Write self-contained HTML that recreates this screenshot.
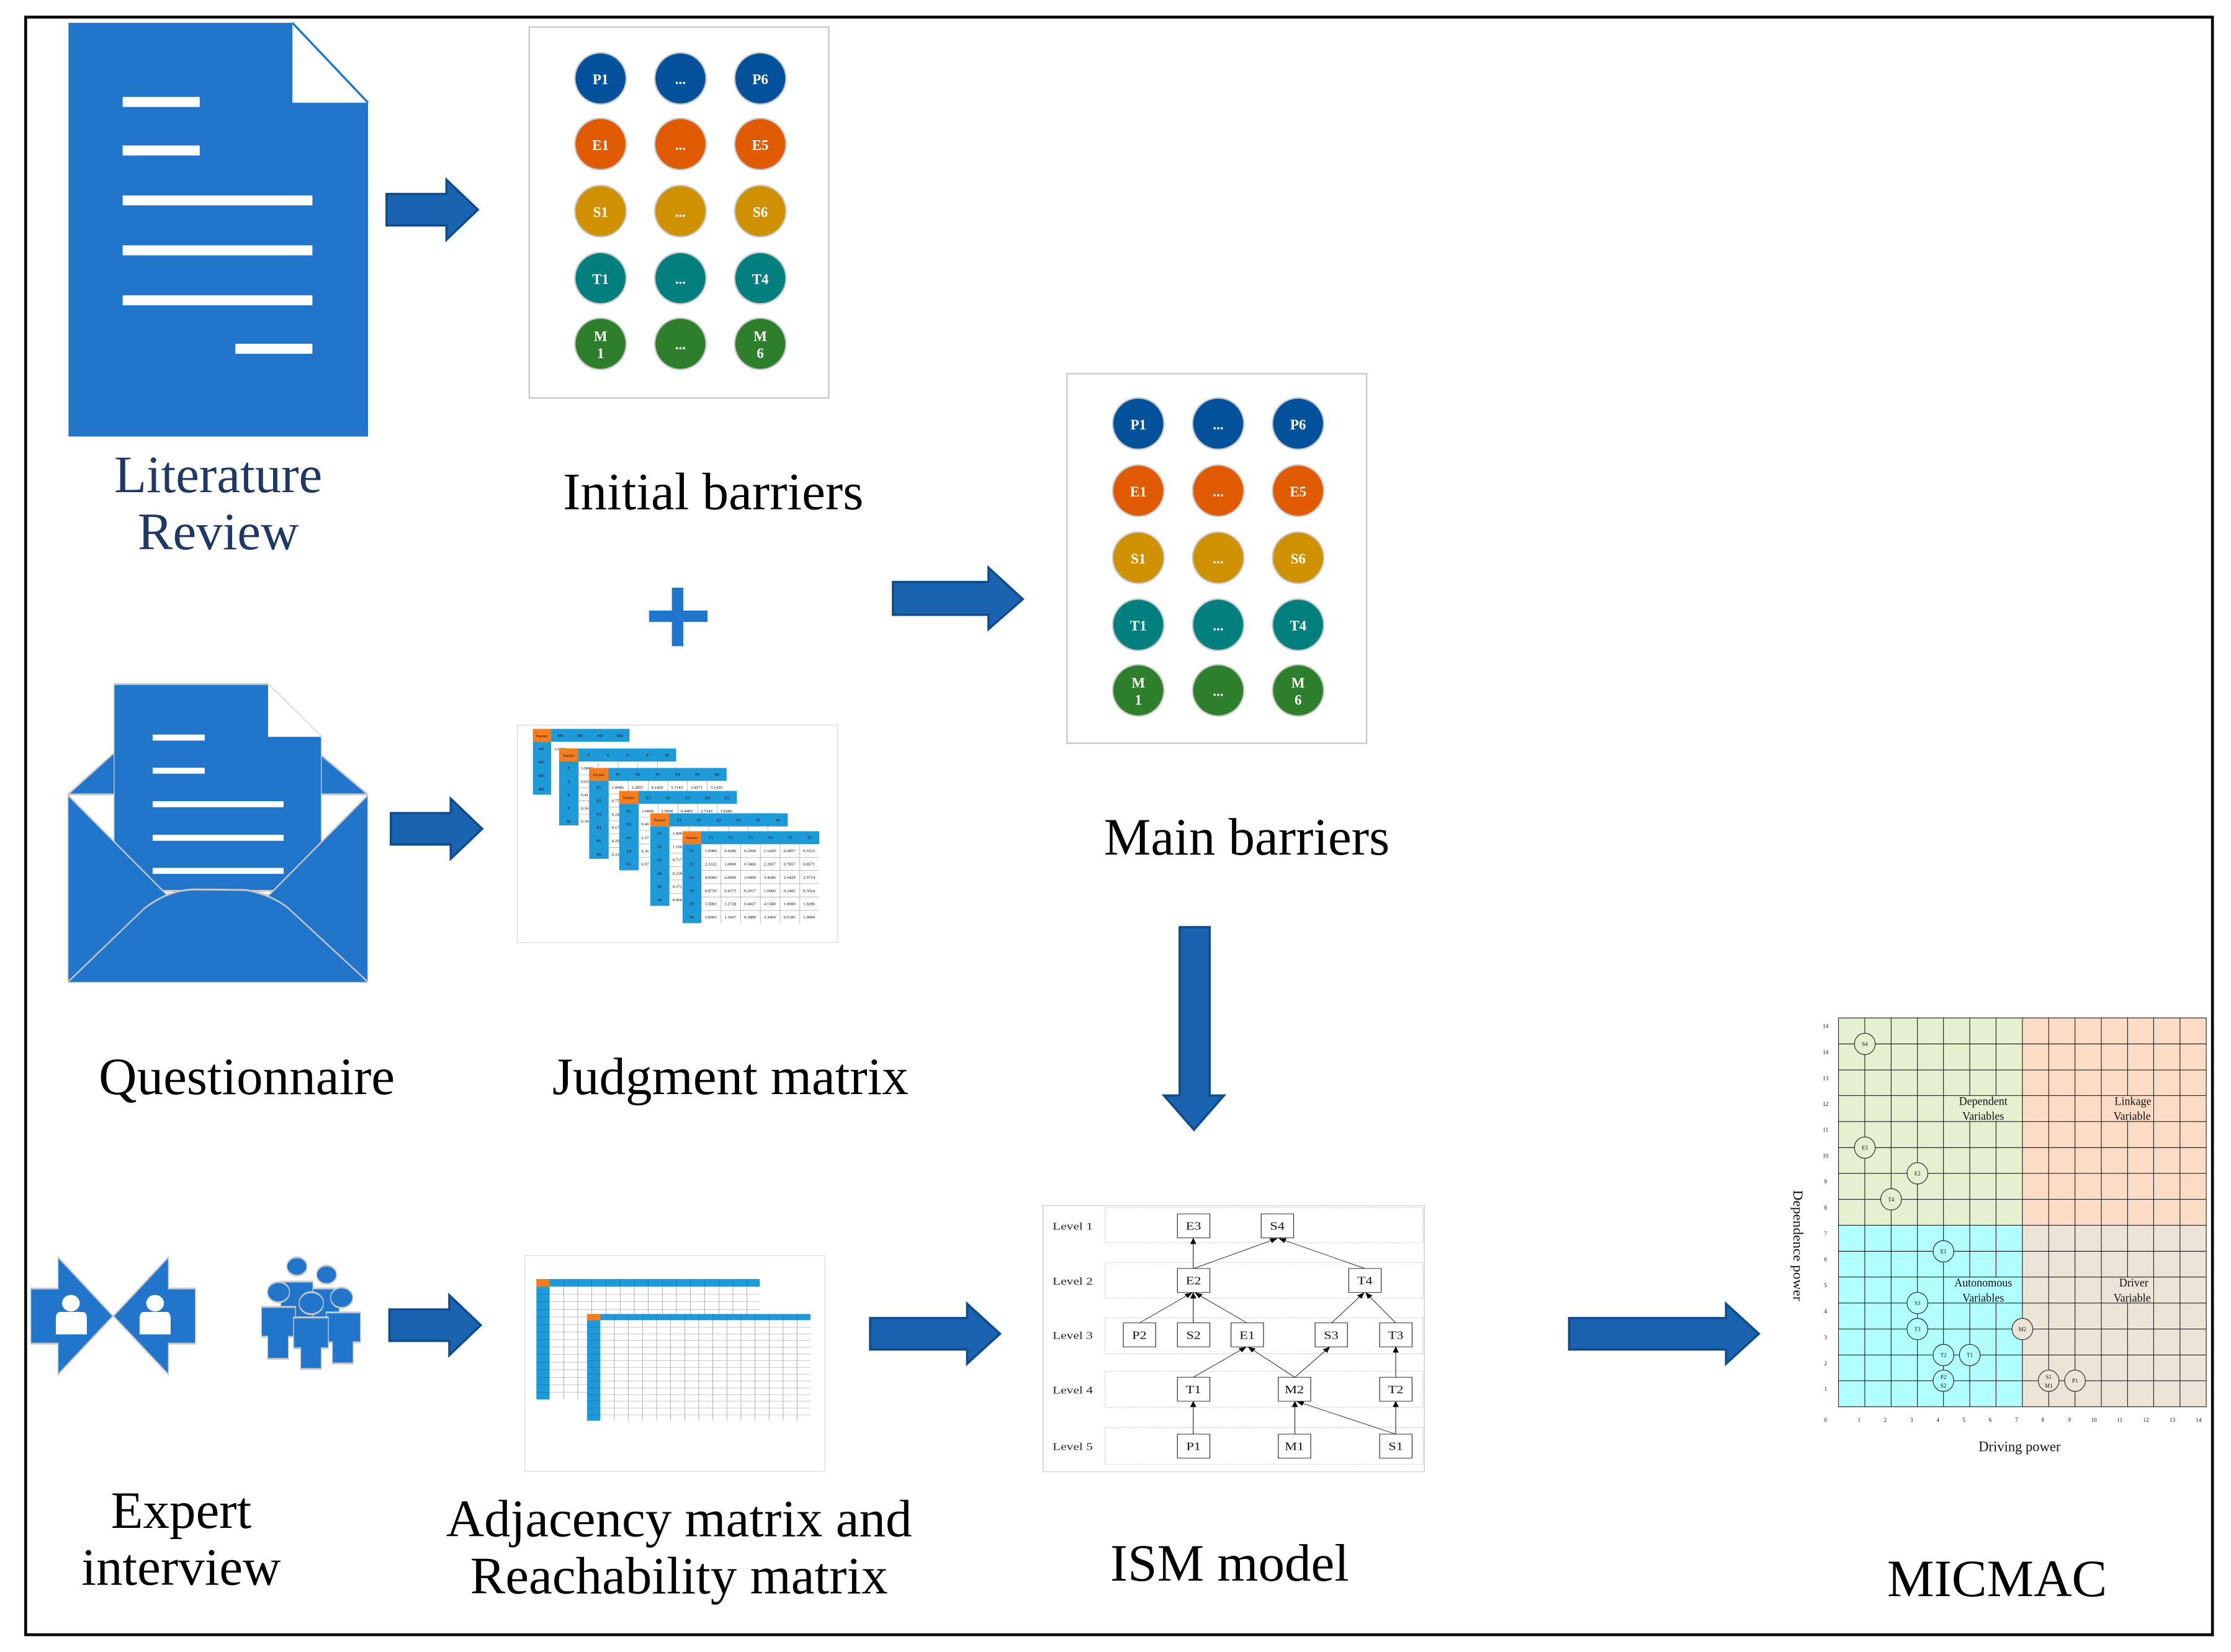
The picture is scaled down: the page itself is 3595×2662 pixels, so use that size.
<!DOCTYPE html>
<html><head><meta charset="utf-8"><style>
html,body{margin:0;padding:0;background:#fff;}
svg{display:block;}
</style></head><body>
<svg xmlns="http://www.w3.org/2000/svg" width="3595" height="2662" viewBox="0 0 3595 2662" font-family="'Liberation Serif', serif">
<defs>
<marker id="ah" markerWidth="30" markerHeight="30" refX="27" refY="15" orient="auto" markerUnits="userSpaceOnUse" viewBox="0 0 30 30"><path d="M0,3 L30,15 L0,27 Z" fill="#000"/></marker>
</defs>
<rect width="3595" height="2662" fill="#fff"/>
<g transform="scale(2.2986)">
<rect x="18" y="12" width="1533" height="1134" fill="none" stroke="#000" stroke-width="2"/>
<!-- literature doc -->
<path d="M48,16 L205,16 L258,72 L258,306 L48,306 Z" fill="#2176cc"/>
<path d="M205,16 L258,72 L205,72 Z" fill="#fff"/>
<path d="M205,16 L258,72" stroke="#2176cc" stroke-width="1.5"/>
<g fill="#fff">
<rect x="86" y="68" width="54" height="7"/><rect x="86" y="102" width="54" height="7"/>
<rect x="86" y="137" width="133" height="7"/><rect x="86" y="172" width="133" height="7"/>
<rect x="86" y="207" width="133" height="7"/><rect x="165" y="241" width="54" height="7"/>
</g>
<g font-size="37" text-anchor="middle">
<text x="153" y="345" fill="#1f3864">Literature</text>
<text x="153" y="385" fill="#1f3864">Review</text>
<text x="500" y="357">Initial barriers</text>
<text x="874" y="599">Main barriers</text>
<text x="173" y="767">Questionnaire</text>
<text x="512" y="767">Judgment matrix</text>
<text x="127" y="1071">Expert</text>
<text x="127" y="1111">interview</text>
<text x="476" y="1077">Adjacency matrix and</text>
<text x="476" y="1117">Reachability matrix</text>
<text x="862" y="1108">ISM model</text>
<text x="1400" y="1119">MICMAC</text>
</g>
<!-- arrows -->
<g fill="#1a63b0" stroke="#0f4c8a" stroke-width="1.6">
<path d="M271,136 L313,136 L313,126 L335,147 L313,168 L313,158 L271,158 Z"/>
<path d="M626,408 L693,408 L693,398 L717,420 L693,441 L693,431 L626,431 Z"/>
<path d="M274,570 L316,570 L316,560 L338,581 L316,602 L316,592 L274,592 Z"/>
<path d="M273,918 L315,918 L315,908 L337,929 L315,950 L315,940 L273,940 Z"/>
<path d="M610,924 L678,924 L678,914 L701,935 L678,956 L678,946 L610,946 Z"/>
<path d="M1100,924 L1210,924 L1210,914 L1233,935 L1210,956 L1210,946 L1100,946 Z"/>
<path d="M827,650 L848,650 L848,768 L858,768 L837,792 L816,768 L827,768 Z"/>
</g>
<!-- plus -->
<rect x="455" y="428" width="41" height="8" fill="#2176cc"/>
<rect x="471" y="412" width="8" height="41" fill="#2176cc"/>
<!-- initial barriers -->
<rect x="371" y="19" width="210" height="260" fill="#fff" stroke="#c8c8c8" stroke-width="1"/>
<g stroke="#c8c8c8" stroke-width="1">
<g fill="#03519a"><ellipse cx="421" cy="55" rx="18" ry="18"/><ellipse cx="477" cy="55" rx="18" ry="18"/><ellipse cx="533" cy="55" rx="18" ry="18"/></g>
<g fill="#e05a00"><ellipse cx="421" cy="101" rx="18" ry="18"/><ellipse cx="477" cy="101" rx="18" ry="18"/><ellipse cx="533" cy="101" rx="18" ry="18"/></g>
<g fill="#cf9100"><ellipse cx="421" cy="148" rx="18" ry="18"/><ellipse cx="477" cy="148" rx="18" ry="18"/><ellipse cx="533" cy="148" rx="18" ry="18"/></g>
<g fill="#007f7f"><ellipse cx="421" cy="195" rx="18" ry="18"/><ellipse cx="477" cy="195" rx="18" ry="18"/><ellipse cx="533" cy="195" rx="18" ry="18"/></g>
<g fill="#2e7f2c"><ellipse cx="421" cy="241" rx="18" ry="18"/><ellipse cx="477" cy="241" rx="18" ry="18"/><ellipse cx="533" cy="241" rx="18" ry="18"/></g>
</g>
<g fill="#fff" font-size="10" font-weight="bold" text-anchor="middle">
<text x="421" y="59">P1</text><text x="477" y="59">...</text><text x="533" y="59">P6</text>
<text x="421" y="105">E1</text><text x="477" y="105">...</text><text x="533" y="105">E5</text>
<text x="421" y="152">S1</text><text x="477" y="152">...</text><text x="533" y="152">S6</text>
<text x="421" y="199">T1</text><text x="477" y="199">...</text><text x="533" y="199">T4</text>
<text x="421" y="239">M</text><text x="421" y="251">1</text><text x="477" y="245">...</text><text x="533" y="239">M</text><text x="533" y="251">6</text>
</g>
<!-- main barriers -->
<rect x="748" y="262" width="210" height="259" fill="#fff" stroke="#c8c8c8" stroke-width="1"/>
<g stroke="#c8c8c8" stroke-width="1">
<g fill="#03519a"><ellipse cx="798" cy="297" rx="18" ry="18"/><ellipse cx="854" cy="297" rx="18" ry="18"/><ellipse cx="910" cy="297" rx="18" ry="18"/></g>
<g fill="#e05a00"><ellipse cx="798" cy="344" rx="18" ry="18"/><ellipse cx="854" cy="344" rx="18" ry="18"/><ellipse cx="910" cy="344" rx="18" ry="18"/></g>
<g fill="#cf9100"><ellipse cx="798" cy="391" rx="18" ry="18"/><ellipse cx="854" cy="391" rx="18" ry="18"/><ellipse cx="910" cy="391" rx="18" ry="18"/></g>
<g fill="#007f7f"><ellipse cx="798" cy="438" rx="18" ry="18"/><ellipse cx="854" cy="438" rx="18" ry="18"/><ellipse cx="910" cy="438" rx="18" ry="18"/></g>
<g fill="#2e7f2c"><ellipse cx="798" cy="484" rx="18" ry="18"/><ellipse cx="854" cy="484" rx="18" ry="18"/><ellipse cx="910" cy="484" rx="18" ry="18"/></g>
</g>
<g fill="#fff" font-size="10" font-weight="bold" text-anchor="middle">
<text x="798" y="301">P1</text><text x="854" y="301">...</text><text x="910" y="301">P6</text>
<text x="798" y="348">E1</text><text x="854" y="348">...</text><text x="910" y="348">E5</text>
<text x="798" y="395">S1</text><text x="854" y="395">...</text><text x="910" y="395">S6</text>
<text x="798" y="442">T1</text><text x="854" y="442">...</text><text x="910" y="442">T4</text>
<text x="798" y="482">M</text><text x="798" y="494">1</text><text x="854" y="488">...</text><text x="910" y="482">M</text><text x="910" y="494">6</text>
</g>
</g>

<!-- envelope + expert icons (zoom3 coords) -->
<g transform="translate(40,1080) scale(0.357,0.7407)">
<path d="M195,270 L403,180 L1338,185 L1548,270 Z" fill="#2176cc" stroke="#c8c8c8" stroke-width="4"/>
<path d="M403,30 L1098,30 L1338,145 L1338,480 L403,480 Z" fill="#2176cc" stroke="#c8c8c8" stroke-width="4"/>
<path d="M1098,30 L1338,145 L1098,145 Z" fill="#fff"/>
<g fill="#fff"><rect x="577" y="140" width="235" height="13"/><rect x="577" y="212" width="235" height="13"/><rect x="577" y="285" width="591" height="13"/><rect x="577" y="358" width="591" height="13"/><rect x="577" y="430" width="591" height="13"/></g>
<path d="M195,272 L640,488 L760,477 L1000,478 L1100,490 L1548,272 L1548,678 L195,678 Z" fill="#2176cc" stroke="#c8c8c8" stroke-width="4"/>
<path d="M195,678 L540,518 Q650,477 770,477 L1000,478 Q1120,490 1190,518 L1548,678" fill="#2176cc" stroke="#c8c8c8" stroke-width="4"/>
<path d="M27,1345 L150,1345 L150,1277 L398,1405 L150,1532 L150,1465 L27,1465 Z" fill="#2176cc" stroke="#c8c8c8" stroke-width="4"/>
<path d="M770,1345 L648,1345 L648,1277 L400,1405 L648,1532 L648,1465 L770,1465 Z" fill="#2176cc" stroke="#c8c8c8" stroke-width="4"/>
<g fill="#fff">
<ellipse cx="208" cy="1377" rx="40" ry="18"/><path d="M140,1445 L140,1410 Q140,1396 160,1396 L260,1396 Q280,1396 280,1410 L280,1445 Z"/>
<ellipse cx="588" cy="1377" rx="40" ry="18"/><path d="M518,1445 L518,1410 Q518,1396 538,1396 L638,1396 Q658,1396 658,1410 L658,1445 Z"/>
</g>
<g fill="#2176cc" stroke="#c8c8c8" stroke-width="4">
<ellipse cx="1228" cy="1297" rx="45" ry="20"/>
<ellipse cx="1362" cy="1315" rx="45" ry="20"/>
<path d="M1160,1330 L1300,1330 L1310,1440 L1150,1440 Z"/>
<path d="M1300,1345 L1420,1345 L1420,1440 L1300,1440 Z"/>
<ellipse cx="1145" cy="1353" rx="50" ry="22"/>
<ellipse cx="1430" cy="1365" rx="50" ry="22"/>
<path d="M1068,1385 L1222,1385 L1222,1450 L1190,1450 L1190,1498 L1096,1498 L1096,1450 L1068,1450 Z"/>
<path d="M1360,1397 L1515,1397 L1515,1462 L1482,1462 L1482,1508 L1388,1508 L1388,1462 L1360,1462 Z"/>
<ellipse cx="1293" cy="1377" rx="55" ry="24"/>
<path d="M1213,1408 L1370,1408 L1370,1475 L1338,1475 L1338,1520 L1245,1520 L1245,1475 L1213,1475 Z"/>
</g>
</g>

<!-- judgment matrix (zoom4 coords) -->
<g transform="translate(830,1160) scale(0.346,0.3367)" font-size="20">
<rect x="10" y="25" width="1493" height="1040" fill="#fff" stroke="#d0d0d0" stroke-width="3"/>
<g>
<rect x="83" y="43" width="450" height="315" fill="#fff"/>
<rect x="83" y="43" width="450" height="62" fill="#1f9ad8"/><rect x="83" y="105" width="85" height="253" fill="#1f9ad8"/><rect x="83" y="43" width="85" height="62" fill="#f47d20"/>
<text x="125" y="83" text-anchor="middle" font-size="18">Factors</text>
<text x="213" y="82" text-anchor="middle">M1</text><text x="305" y="82" text-anchor="middle">M2</text><text x="397" y="82" text-anchor="middle">M3</text><text x="488" y="82" text-anchor="middle">M4</text>
<text x="122" y="146" text-anchor="middle">M1</text><text x="122" y="208" text-anchor="middle">M2</text><text x="122" y="273" text-anchor="middle">M3</text><text x="122" y="337" text-anchor="middle">M4</text>
<text x="182" y="146">1.0000</text>
</g>
<g>
<rect x="205" y="137" width="545" height="368" fill="#fff"/>
<path d="M295,200 V505 M387,200 V505 M480,200 V505 M572,200 V505 M663,200 V505 M295,262 H750 M295,325 H750 M295,388 H750 M295,452 H750" stroke="#999" stroke-width="2"/>
<rect x="205" y="137" width="545" height="62" fill="#1f9ad8"/><rect x="205" y="199" width="90" height="306" fill="#1f9ad8"/><rect x="205" y="137" width="90" height="62" fill="#f47d20"/>
<text x="250" y="176" text-anchor="middle" font-size="18">Factors</text>
<text x="342" y="175" text-anchor="middle">T</text><text x="433" y="175" text-anchor="middle">S</text><text x="525" y="175" text-anchor="middle">E</text><text x="617" y="175" text-anchor="middle">P</text><text x="708" y="175" text-anchor="middle">M</text>
<text x="250" y="238" text-anchor="middle">T</text><text x="250" y="301" text-anchor="middle">S</text><text x="250" y="366" text-anchor="middle">E</text><text x="250" y="429" text-anchor="middle">P</text><text x="250" y="492" text-anchor="middle">M</text>
<text x="307" y="238">1.0000</text><text x="307" y="301">0.63</text><text x="307" y="366">0.41</text><text x="307" y="429">0.36</text><text x="307" y="492">0.30</text>
</g>
<g>
<rect x="345" y="230" width="640" height="435" fill="#fff"/>
<path d="M435,292 V665 M527,292 V665 M620,292 V665 M711,292 V665 M803,292 V665 M895,292 V665 M435,355 H985 M435,418 H985 M435,482 H985 M435,546 H985 M435,610 H985" stroke="#999" stroke-width="2"/>
<rect x="345" y="230" width="640" height="62" fill="#1f9ad8"/><rect x="345" y="292" width="90" height="373" fill="#1f9ad8"/><rect x="345" y="230" width="90" height="62" fill="#f47d20"/>
<text x="390" y="269" text-anchor="middle" font-size="18">Factors</text>
<text x="481" y="268" text-anchor="middle">P1</text><text x="573" y="268" text-anchor="middle">P2</text><text x="665" y="268" text-anchor="middle">P3</text><text x="757" y="268" text-anchor="middle">P4</text><text x="849" y="268" text-anchor="middle">P5</text><text x="940" y="268" text-anchor="middle">P6</text>
<text x="390" y="330" text-anchor="middle">P1</text><text x="390" y="394" text-anchor="middle">P2</text><text x="390" y="459" text-anchor="middle">P3</text><text x="390" y="522" text-anchor="middle">P4</text><text x="390" y="585" text-anchor="middle">P5</text><text x="390" y="650" text-anchor="middle">P6</text>
<text x="450" y="330">1.0000</text><text x="542" y="330">1.2857</text><text x="634" y="330">4.1429</text><text x="726" y="330">5.7143</text><text x="818" y="330">3.8571</text><text x="910" y="330">3.1429</text>
<text x="450" y="394">0.77</text><text x="450" y="459">0.24</text><text x="450" y="522">0.17</text><text x="450" y="585">0.25</text><text x="450" y="650">0.31</text>
</g>
<g>
<rect x="485" y="340" width="548" height="380" fill="#fff"/>
<path d="M575,402 V720 M667,402 V720 M759,402 V720 M850,402 V720 M942,402 V720 M575,466 H1033 M575,530 H1033 M575,594 H1033 M575,658 H1033" stroke="#999" stroke-width="2"/>
<rect x="485" y="340" width="548" height="62" fill="#1f9ad8"/><rect x="485" y="402" width="90" height="318" fill="#1f9ad8"/><rect x="485" y="340" width="90" height="62" fill="#f47d20"/>
<text x="530" y="378" text-anchor="middle" font-size="18">Factors</text>
<text x="621" y="378" text-anchor="middle">E1</text><text x="713" y="378" text-anchor="middle">E2</text><text x="804" y="378" text-anchor="middle">E3</text><text x="896" y="378" text-anchor="middle">E4</text><text x="987" y="378" text-anchor="middle">E5</text>
<text x="530" y="442" text-anchor="middle">E1</text><text x="530" y="505" text-anchor="middle">E2</text><text x="530" y="570" text-anchor="middle">E3</text><text x="530" y="634" text-anchor="middle">E4</text><text x="530" y="696" text-anchor="middle">E5</text>
<text x="590" y="442">1.0000</text><text x="680" y="442">2.5000</text><text x="772" y="442">0.4405</text><text x="864" y="442">2.7143</text><text x="956" y="442">1.0286</text>
<text x="588" y="505">0.40</text><text x="588" y="570">2.27</text><text x="588" y="634">0.36</text><text x="588" y="696">0.97</text>
</g>
<g>
<rect x="630" y="447" width="640" height="443" fill="#fff"/>
<path d="M718,510 V890 M810,510 V890 M902,510 V890 M994,510 V890 M1086,510 V890 M1178,510 V890 M718,573 H1270 M718,638 H1270 M718,702 H1270 M718,766 H1270 M718,830 H1270" stroke="#999" stroke-width="2"/>
<rect x="630" y="447" width="640" height="63" fill="#1f9ad8"/><rect x="630" y="510" width="88" height="380" fill="#1f9ad8"/><rect x="630" y="447" width="88" height="63" fill="#f47d20"/>
<text x="673" y="485" text-anchor="middle" font-size="18">Factors</text>
<text x="764" y="485" text-anchor="middle">S1</text><text x="856" y="485" text-anchor="middle">S2</text><text x="948" y="485" text-anchor="middle">S3</text><text x="1040" y="485" text-anchor="middle">S4</text><text x="1132" y="485" text-anchor="middle">S5</text><text x="1224" y="485" text-anchor="middle">S6</text>
<text x="673" y="550" text-anchor="middle">S1</text><text x="673" y="613" text-anchor="middle">S2</text><text x="673" y="676" text-anchor="middle">S3</text><text x="673" y="741" text-anchor="middle">S4</text><text x="673" y="804" text-anchor="middle">S5</text><text x="673" y="868" text-anchor="middle">S6</text>
<text x="733" y="550">1.000</text><text x="733" y="613">1.166</text><text x="733" y="676">0.717</text><text x="733" y="741">0.218</text><text x="733" y="804">0.371</text><text x="733" y="868">0.466</text>
</g>
<g>
<rect x="780" y="533" width="637" height="440" fill="#fff"/>
<path d="M867,595 V973 M959,595 V973 M1050,595 V973 M1142,595 V973 M1234,595 V973 M1326,595 V973 M867,658 H1417 M867,721 H1417 M867,784 H1417 M867,848 H1417 M867,912 H1417" stroke="#999" stroke-width="2"/>
<rect x="780" y="533" width="637" height="62" fill="#1f9ad8"/><rect x="780" y="595" width="87" height="378" fill="#1f9ad8"/><rect x="780" y="533" width="87" height="62" fill="#f47d20"/>
<text x="823" y="570" text-anchor="middle" font-size="18">Factors</text>
<text x="912" y="569" text-anchor="middle">T1</text><text x="1004" y="569" text-anchor="middle">T2</text><text x="1096" y="569" text-anchor="middle">T3</text><text x="1188" y="569" text-anchor="middle">T4</text><text x="1280" y="569" text-anchor="middle">T5</text><text x="1371" y="569" text-anchor="middle">T6</text>
<g text-anchor="middle">
<text x="821" y="633">T1</text><text x="821" y="696">T2</text><text x="821" y="760">T3</text><text x="821" y="824">T4</text><text x="821" y="887">T5</text><text x="821" y="950">T6</text>
<text x="911" y="633">1.0000</text><text x="1002" y="633">0.4286</text><text x="1094" y="633">0.2500</text><text x="1186" y="633">1.1429</text><text x="1278" y="633">0.2857</text><text x="1369" y="633">0.3333</text>
<text x="911" y="696">2.3332</text><text x="1002" y="696">1.0000</text><text x="1094" y="696">0.5000</text><text x="1186" y="696">2.2857</text><text x="1278" y="696">0.7857</text><text x="1369" y="696">0.8571</text>
<text x="911" y="760">4.0000</text><text x="1002" y="760">2.0000</text><text x="1094" y="760">1.0000</text><text x="1186" y="760">3.4286</text><text x="1278" y="760">2.1429</text><text x="1369" y="760">2.5714</text>
<text x="911" y="824">0.8750</text><text x="1002" y="824">0.4375</text><text x="1094" y="824">0.2917</text><text x="1186" y="824">1.0000</text><text x="1278" y="824">0.2405</text><text x="1369" y="824">0.3024</text>
<text x="911" y="887">3.5002</text><text x="1002" y="887">1.2728</text><text x="1094" y="887">0.4667</text><text x="1186" y="887">4.1580</text><text x="1278" y="887">1.0000</text><text x="1369" y="887">1.9286</text>
<text x="911" y="950">3.0003</text><text x="1002" y="950">1.1667</text><text x="1094" y="950">0.3889</text><text x="1186" y="950">3.3069</text><text x="1278" y="950">0.5185</text><text x="1369" y="950">1.0000</text>
</g>
</g>
</g>

<!-- adjacency (zoom5 coords, 3x) -->
<g transform="translate(840,2020) scale(0.3333)">
<rect x="17" y="10" width="1451" height="1043" fill="#fff" stroke="#d0d0d0" stroke-width="3"/>
<g>
<rect x="73" y="123" width="1080" height="582" fill="#fff"/>
<path d="M205,160 V705 M273,160 V705 M341,160 V705 M409,160 V705 M478,160 V705 M546,160 V705 M614,160 V705 M682,160 V705 M750,160 V705 M818,160 V705 M887,160 V705 M955,160 V705 M1023,160 V705 M1091,160 V705" stroke="#888" stroke-width="2"/>
<path d="M137,197 H1153 M137,233 H1153 M137,270 H1153 M137,306 H1153 M137,343 H1153 M137,379 H1153 M137,416 H1153 M137,452 H1153 M137,488 H1153 M137,525 H1153 M137,561 H1153 M137,598 H1153 M137,634 H1153 M137,670 H1153" stroke="#aaa" stroke-width="2"/>
<rect x="73" y="123" width="1080" height="37" fill="#1f9ad8"/><rect x="73" y="160" width="64" height="545" fill="#1f9ad8"/><rect x="73" y="123" width="64" height="37" fill="#f47d20"/>
<path d="M205,123 V160 M273,123 V160 M341,123 V160 M409,123 V160 M478,123 V160 M546,123 V160 M614,123 V160 M682,123 V160 M750,123 V160 M818,123 V160 M887,123 V160 M955,123 V160 M1023,123 V160 M1091,123 V160 M73,197 H137 M73,233 H137 M73,270 H137 M73,306 H137 M73,343 H137 M73,379 H137 M73,416 H137 M73,452 H137 M73,488 H137 M73,525 H137 M73,561 H137 M73,598 H137 M73,634 H137 M73,670 H137" stroke="#1670a8" stroke-width="2"/>
</g>
<g>
<rect x="318" y="292" width="1080" height="516" fill="#fff"/>
<path d="M450,322 V808 M518,322 V808 M586,322 V808 M654,322 V808 M722,322 V808 M790,322 V808 M858,322 V808 M926,322 V808 M994,322 V808 M1062,322 V808 M1130,322 V808 M1198,322 V808 M1266,322 V808 M1334,322 V808" stroke="#888" stroke-width="2"/>
<path d="M382,355 H1398 M382,388 H1398 M382,420 H1398 M382,453 H1398 M382,486 H1398 M382,518 H1398 M382,551 H1398 M382,584 H1398 M382,616 H1398 M382,649 H1398 M382,682 H1398 M382,714 H1398 M382,747 H1398 M382,780 H1398" stroke="#aaa" stroke-width="2"/>
<rect x="318" y="292" width="1080" height="30" fill="#1f9ad8"/><rect x="318" y="322" width="64" height="486" fill="#1f9ad8"/><rect x="318" y="292" width="64" height="30" fill="#f47d20"/>
<path d="M450,292 V322 M518,292 V322 M586,292 V322 M654,292 V322 M722,292 V322 M790,292 V322 M858,292 V322 M926,292 V322 M994,292 V322 M1062,292 V322 M1130,292 V322 M1198,292 V322 M1266,292 V322 M1334,292 V322 M318,355 H382 M318,388 H382 M318,420 H382 M318,453 H382 M318,486 H382 M318,518 H382 M318,551 H382 M318,584 H382 M318,616 H382 M318,649 H382 M318,682 H382 M318,714 H382 M318,747 H382 M318,780 H382" stroke="#1670a8" stroke-width="2"/>
</g>
</g>

<!-- ISM (zoom1 coords) -->
<g transform="translate(1680,1930) scale(0.4115,0.3333)">
<rect x="2" y="38" width="1493" height="1287" fill="#fff" stroke="#d0d0d0" stroke-width="4"/>
<g fill="none" stroke="#b0b0b0" stroke-width="2" stroke-dasharray="4,3">
<rect x="245" y="47" width="1245" height="171"/><rect x="245" y="313" width="1245" height="173"/><rect x="245" y="580" width="1245" height="175"/><rect x="245" y="838" width="1245" height="174"/><rect x="245" y="1112" width="1245" height="178"/>
</g>
<g font-size="52" text-anchor="middle" fill="#222">
<text x="118" y="155">Level 1</text><text x="118" y="420">Level 2</text><text x="118" y="682">Level 3</text><text x="118" y="946">Level 4</text><text x="118" y="1220">Level 5</text>
</g>
<g stroke="#333" stroke-width="3" marker-end="url(#ah)">
<line x1="590" y1="342" x2="590" y2="197"/>
<line x1="592" y1="342" x2="918" y2="197"/>
<line x1="1262" y1="342" x2="926" y2="197"/>
<line x1="380" y1="605" x2="584" y2="460"/>
<line x1="590" y1="605" x2="590" y2="460"/>
<line x1="800" y1="605" x2="598" y2="460"/>
<line x1="1132" y1="605" x2="1258" y2="460"/>
<line x1="1383" y1="605" x2="1266" y2="460"/>
<line x1="590" y1="868" x2="796" y2="722"/>
<line x1="988" y1="868" x2="806" y2="722"/>
<line x1="988" y1="868" x2="1124" y2="722"/>
<line x1="1383" y1="868" x2="1383" y2="722"/>
<line x1="590" y1="1143" x2="590" y2="985"/>
<line x1="988" y1="1143" x2="988" y2="985"/>
<line x1="1383" y1="1143" x2="996" y2="985"/>
<line x1="1383" y1="1143" x2="1383" y2="985"/>
</g>
<g fill="#fff" stroke="#333" stroke-width="3">
<rect x="528" y="78" width="127" height="116"/><rect x="856" y="78" width="127" height="116"/>
<rect x="528" y="342" width="127" height="116"/><rect x="1199" y="342" width="127" height="116"/>
<rect x="316" y="605" width="127" height="116"/><rect x="528" y="605" width="127" height="116"/><rect x="738" y="605" width="127" height="116"/><rect x="1067" y="605" width="127" height="116"/><rect x="1320" y="605" width="127" height="116"/>
<rect x="528" y="868" width="127" height="116"/><rect x="923" y="868" width="127" height="116"/><rect x="1320" y="868" width="127" height="116"/>
<rect x="528" y="1143" width="127" height="116"/><rect x="923" y="1143" width="127" height="116"/><rect x="1320" y="1143" width="127" height="116"/>
</g>
<g font-size="54" text-anchor="middle" fill="#111">
<text x="591" y="155">E3</text><text x="919" y="155">S4</text>
<text x="591" y="419">E2</text><text x="1262" y="419">T4</text>
<text x="379" y="682">P2</text><text x="591" y="682">S2</text><text x="801" y="682">E1</text><text x="1130" y="682">S3</text><text x="1383" y="682">T3</text>
<text x="591" y="945">T1</text><text x="986" y="945">M2</text><text x="1383" y="945">T2</text>
<text x="591" y="1220">P1</text><text x="986" y="1220">M1</text><text x="1383" y="1220">S1</text>
</g>
</g>

<!-- MICMAC -->
<g transform="translate(2880,1630) scale(0.451,0.4655)">
<rect x="183" y="22" width="657" height="718" fill="#e6efd0"/>
<rect x="840" y="22" width="657" height="718" fill="#fddcc6"/>
<rect x="183" y="740" width="657" height="628" fill="#b2ffff"/>
<rect x="840" y="740" width="657" height="628" fill="#ede4d8"/>
<g stroke="#222" stroke-width="2.5">
<path d="M277,22V1368 M371,22V1368 M465,22V1368 M558,22V1368 M652,22V1368 M746,22V1368 M840,22V1368 M934,22V1368 M1028,22V1368 M1122,22V1368 M1216,22V1368 M1309,22V1368 M1403,22V1368"/>
<path d="M183,112H1497 M183,202H1497 M183,291H1497 M183,381H1497 M183,471H1497 M183,560H1497 M183,650H1497 M183,740H1497 M183,830H1497 M183,919H1497 M183,1009H1497 M183,1099H1497 M183,1189H1497 M183,1278H1497"/>
<rect x="183" y="22" width="1314" height="1346" fill="none"/>
</g>
<rect x="562" y="292" width="276" height="86" fill="#e6efd0"/>
<rect x="1124" y="292" width="184" height="86" fill="#fddcc6"/>
<rect x="562" y="921" width="276" height="86" fill="#b2ffff"/>
<rect x="1124" y="921" width="184" height="86" fill="#ede4d8"/>
<g font-size="40" text-anchor="middle" fill="#111">
<text x="700" y="323">Dependent</text><text x="700" y="375">Variables</text>
<text x="1235" y="323">Linkage</text><text x="1232" y="375">Variable</text>
<text x="700" y="952">Autonomous</text><text x="700" y="1004">Variables</text>
<text x="1238" y="952">Driver</text><text x="1232" y="1004">Variable</text>
</g>
<g stroke="#222" stroke-width="2.5">
<g fill="#e6efd0">
<circle cx="277" cy="112" r="37"/><circle cx="277" cy="471" r="37"/><circle cx="465" cy="560" r="37"/><circle cx="371" cy="650" r="37"/>
</g>
<g fill="#b2ffff">
<circle cx="558" cy="830" r="37"/><circle cx="465" cy="1009" r="37"/><circle cx="465" cy="1099" r="37"/><circle cx="558" cy="1189" r="37"/><circle cx="652" cy="1189" r="37"/><circle cx="558" cy="1278" r="37"/>
</g>
<g fill="#ede4d8">
<circle cx="840" cy="1099" r="37"/><circle cx="934" cy="1278" r="37"/><circle cx="1028" cy="1278" r="37"/>
</g>
</g>
<g font-size="20" text-anchor="middle" fill="#111">
<text x="277" y="119">S4</text><text x="277" y="478">E3</text><text x="465" y="567">E2</text><text x="371" y="657">T4</text>
<text x="558" y="837">E1</text><text x="465" y="1016">S3</text><text x="465" y="1106">T3</text><text x="558" y="1196">T2</text><text x="652" y="1196">T1</text>
<text x="558" y="1272">P2</text><text x="558" y="1302">S2</text>
<text x="840" y="1106">M2</text><text x="934" y="1272">S1</text><text x="934" y="1302">M1</text><text x="1028" y="1285">P1</text>
</g>
<g font-size="20" text-anchor="middle" fill="#111">
<text x="137" y="57">14</text><text x="137" y="147">14</text><text x="137" y="237">13</text><text x="137" y="326">12</text><text x="137" y="416">11</text><text x="137" y="506">10</text><text x="137" y="595">9</text><text x="137" y="685">8</text><text x="137" y="775">7</text><text x="137" y="865">6</text><text x="137" y="954">5</text><text x="137" y="1044">4</text><text x="137" y="1134">3</text><text x="137" y="1224">2</text><text x="137" y="1313">1</text><text x="137" y="1420">0</text>
<text x="257" y="1420">1</text><text x="350" y="1420">2</text><text x="444" y="1420">3</text><text x="538" y="1420">4</text><text x="631" y="1420">5</text><text x="725" y="1420">6</text><text x="819" y="1420">7</text><text x="913" y="1420">8</text><text x="1008" y="1420">9</text><text x="1096" y="1420">10</text><text x="1188" y="1420">11</text><text x="1282" y="1420">12</text><text x="1376" y="1420">13</text><text x="1470" y="1420">14</text>
</g>
<text x="830" y="1522" font-size="50" text-anchor="middle" fill="#111">Driving power</text>
<text transform="translate(22,810) rotate(90)" font-size="50" text-anchor="middle" fill="#111">Dependence power</text>
</g>
</svg>
</body></html>
